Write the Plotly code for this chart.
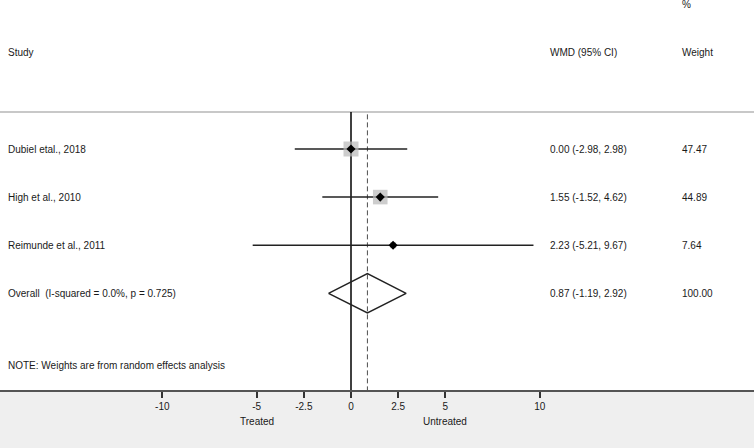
import plotly.graph_objects as go
import math

# ---- data ----
studies = ["Dubiel etal., 2018", "High et al., 2010", "Reimunde et al., 2011"]
wmd = [0.00, 1.55, 2.23]
ci_low = [-2.98, -1.52, -5.21]
ci_high = [2.98, 4.62, 9.67]
weights = [47.47, 44.89, 7.64]

overall_label = "Overall  (I-squared = 0.0%, p = 0.725)"
overall_wmd = 0.87
overall_low = -1.19
overall_high = 2.92
overall_weight = 100.00

tick_vals = [-10, -5, -2.5, 0, 2.5, 5, 10]
tick_text = ["-10", "-5", "-2.5", "0", "2.5", "5", "10"]
favours_left = "Treated"
favours_right = "Untreated"
note = "NOTE: Weights are from random effects analysis"

# ---- layout constants ----
W, H = 754, 448
px_per_unit = 18.87
zero_px = 351
x_range = [-zero_px / px_per_unit, (W - zero_px) / px_per_unit]
row_px = 48.1
y_top = 1 - 149 / row_px
y_bot = 390 / row_px + y_top
FONT = "Liberation Sans, Arial, sans-serif"
TXT = "#1a1a1a"
LINE = "#222222"

fig = go.Figure()

rows = list(range(1, len(studies) + 1))
overall_row = len(studies) + 1

# CI lines
for r, lo, hi in zip(rows, ci_low, ci_high):
    fig.add_trace(go.Scatter(x=[lo, hi], y=[r, r], mode="lines",
                             line=dict(color=LINE, width=1.5),
                             hoverinfo="skip", showlegend=False))

# weight squares
max_w = max(weights)
fig.add_trace(go.Scatter(x=wmd, y=rows, mode="markers",
                         marker=dict(symbol="square", color="#b8b8b8",
                                     size=[15 * math.sqrt(w / max_w) for w in weights],
                                     line=dict(width=0)),
                         hoverinfo="skip", showlegend=False))
# point estimates
fig.add_trace(go.Scatter(x=wmd, y=rows, mode="markers",
                         marker=dict(symbol="diamond", color="black", size=7,
                                     line=dict(width=0)),
                         hoverinfo="skip", showlegend=False))

# overall diamond
dh = 0.41
fig.add_trace(go.Scatter(
    x=[overall_low, overall_wmd, overall_high, overall_wmd, overall_low],
    y=[overall_row, overall_row - dh, overall_row, overall_row + dh, overall_row],
    mode="lines", line=dict(color=LINE, width=1.5),
    hoverinfo="skip", showlegend=False))

# vertical lines
line_top = 0.23
fig.add_shape(type="line", x0=0, x1=0, y0=line_top, y1=y_bot, xref="x", yref="y",
              line=dict(color="black", width=1.5), layer="below")
fig.add_shape(type="line", x0=overall_wmd, x1=overall_wmd, y0=line_top + 0.05, y1=y_bot,
              xref="x", yref="y", line=dict(color="#4d4d4d", width=1, dash="5px,3px"),
              layer="below")
# top separator line
fig.add_shape(type="line", x0=0, x1=1, y0=line_top, y1=line_top, xref="paper", yref="y",
              line=dict(color="#c8c8c8", width=2), layer="below")

def txt(x, y, s, xref="paper", anchor="left"):
    fig.add_annotation(x=x, y=y, text=s, xref=xref, yref="y", showarrow=False,
                       xanchor=anchor, yanchor="middle",
                       font=dict(family=FONT, size=10, color=TXT))

col_study = 6 / W
col_est = 548 / W
col_w = 680 / W

# headers
txt(col_w, -2, "%")
txt(col_study, -1, "Study")
txt(col_est, -1, "WMD (95% CI)")
txt(col_w, -1, "Weight")

for r, s, e, lo, hi, w in zip(rows, studies, wmd, ci_low, ci_high, weights):
    txt(col_study, r, s)
    txt(col_est, r, f"{e:.2f} ({lo:.2f}, {hi:.2f})")
    txt(col_w, r, f"{w:.2f}")

txt(col_study, overall_row, overall_label)
txt(col_est, overall_row, f"{overall_wmd:.2f} ({overall_low:.2f}, {overall_high:.2f})")
txt(col_w, overall_row, f"{overall_weight:.2f}")

txt(col_study, 5.51, note)

# favours labels
for xv, s in [(-5, favours_left), (5, favours_right)]:
    fig.add_annotation(x=xv, y=-31 / 390, xref="x", yref="paper", text=s,
                       showarrow=False, xanchor="center", yanchor="middle",
                       font=dict(family=FONT, size=10, color=TXT))

fig.update_layout(
    width=W, height=H,
    margin=dict(l=0, r=0, t=0, b=H - 390, pad=0),
    paper_bgcolor="#efefef", plot_bgcolor="white",
    xaxis=dict(range=x_range, tickvals=tick_vals, ticktext=tick_text,
               showgrid=False, zeroline=False, showline=True, linecolor="#555555",
               linewidth=2, ticks="outside", ticklen=6, tickwidth=1.5, tickcolor="#333333",
               tickfont=dict(family=FONT, size=10, color=TXT), fixedrange=True),
    yaxis=dict(range=[y_bot, y_top], visible=False, fixedrange=True),
    showlegend=False,
)

fig.write_html("out.html", config={"displayModeBar": False},
               post_script="document.body.style.margin='0';document.body.style.overflow='hidden';")
